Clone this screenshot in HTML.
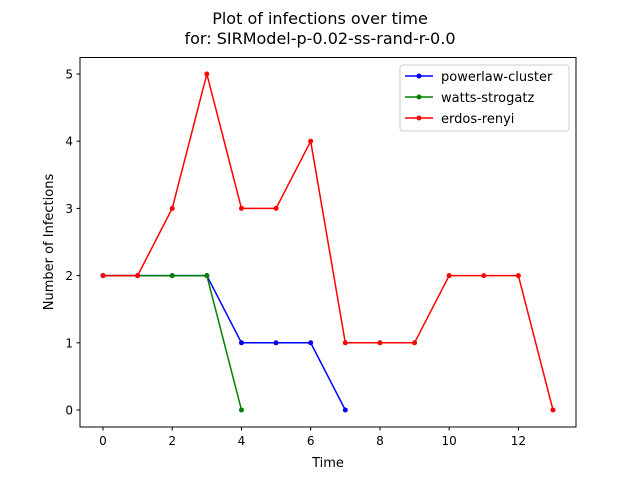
<!DOCTYPE html>
<html><head><meta charset="utf-8"><style>
body{margin:0;background:#fff;font-family:"Liberation Sans","DejaVu Sans",sans-serif}
</style></head><body>
<svg id="chart" width="640" height="480" xmlns="http://www.w3.org/2000/svg" font-family="DejaVu Sans, Liberation Sans, sans-serif">
<rect width="640" height="480" fill="#fff"/>
<text x="320" y="24" text-anchor="middle" font-size="16">Plot of infections over time</text>
<text x="320" y="44" text-anchor="middle" font-size="16">for: SIRModel-p-0.02-ss-rand-r-0.0</text>
<g id="ticks"></g>
<g id="series"></g>
<rect x="80" y="57.5" width="496" height="369.5" fill="none" stroke="#000" stroke-width="1"/>
<text x="328" y="467" text-anchor="middle" font-size="13">Time</text>
<text transform="translate(53,242) rotate(-90)" text-anchor="middle" font-size="13">Number of Infections</text>
<g>
<rect x="400" y="65" width="169" height="66" rx="3" fill="#fff" stroke="#ccc"/>
<g><line x1="405" y1="76" x2="433" y2="76" stroke="#0000ff" stroke-width="1.5"/><circle cx="419" cy="76" r="2.5" fill="#0000ff"/><text x="441" y="81" font-size="13">powerlaw-cluster</text></g>
<g><line x1="405" y1="97" x2="433" y2="97" stroke="#008000" stroke-width="1.5"/><circle cx="419" cy="97" r="2.5" fill="#008000"/><text x="441" y="102" font-size="13">watts-strogatz</text></g>
<g><line x1="405" y1="118" x2="433" y2="118" stroke="#ff0000" stroke-width="1.5"/><circle cx="419" cy="118" r="2.5" fill="#ff0000"/><text x="441" y="123" font-size="13">erdos-renyi</text></g>
</g>
</svg>
<script>
const powerlawValues=[2,2,2,2,1,1,1,0];
const wattsValues=[2,2,2,2,0];
const erdosValues=[2,2,3,5,3,3,4,1,1,1,2,2,2,0];
const xTicks=[0,2,4,6,8,10,12];
const yTicks=[0,1,2,3,4,5];
const NS='http://www.w3.org/2000/svg';
const xs=v=>103+v*34.615;
const ys=v=>410-v*67.2;
const tg=document.getElementById('ticks');
function mk(tag,attrs,parent){const e=document.createElementNS(NS,tag);for(const k in attrs)e.setAttribute(k,attrs[k]);parent.appendChild(e);return e;}
xTicks.forEach(t=>{const g=mk('g',{},tg);


mk('line',{x1:xs(t),x2:xs(t),y1:427,y2:430.5,stroke:'#000'},g);
const tx=mk('text',{x:xs(t),y:445,'text-anchor':'middle','font-size':'12'},g);tx.textContent=t;});
yTicks.forEach(t=>{const g=mk('g',{},tg);


mk('line',{x1:76.5,x2:80,y1:ys(t),y2:ys(t),stroke:'#000'},g);
const tx=mk('text',{x:73,y:ys(t)+4.5,'text-anchor':'end','font-size':'12'},g);tx.textContent=t;});
const sg=document.getElementById('series');
[[powerlawValues,'#0000ff','powerlaw-cluster'],[wattsValues,'#008000','watts-strogatz'],[erdosValues,'#ff0000','erdos-renyi']].forEach(([vals,c,n])=>{
const g=mk('g',{},sg);


mk('polyline',{points:vals.map((v,i)=>xs(i)+','+ys(v)).join(' '),fill:'none',stroke:c,'stroke-width':1.5},g);
vals.forEach((v,i)=>{const p=mk('circle',{cx:xs(i),cy:ys(v),r:2.5,fill:c},g);

});
});
</script>
</body></html>
